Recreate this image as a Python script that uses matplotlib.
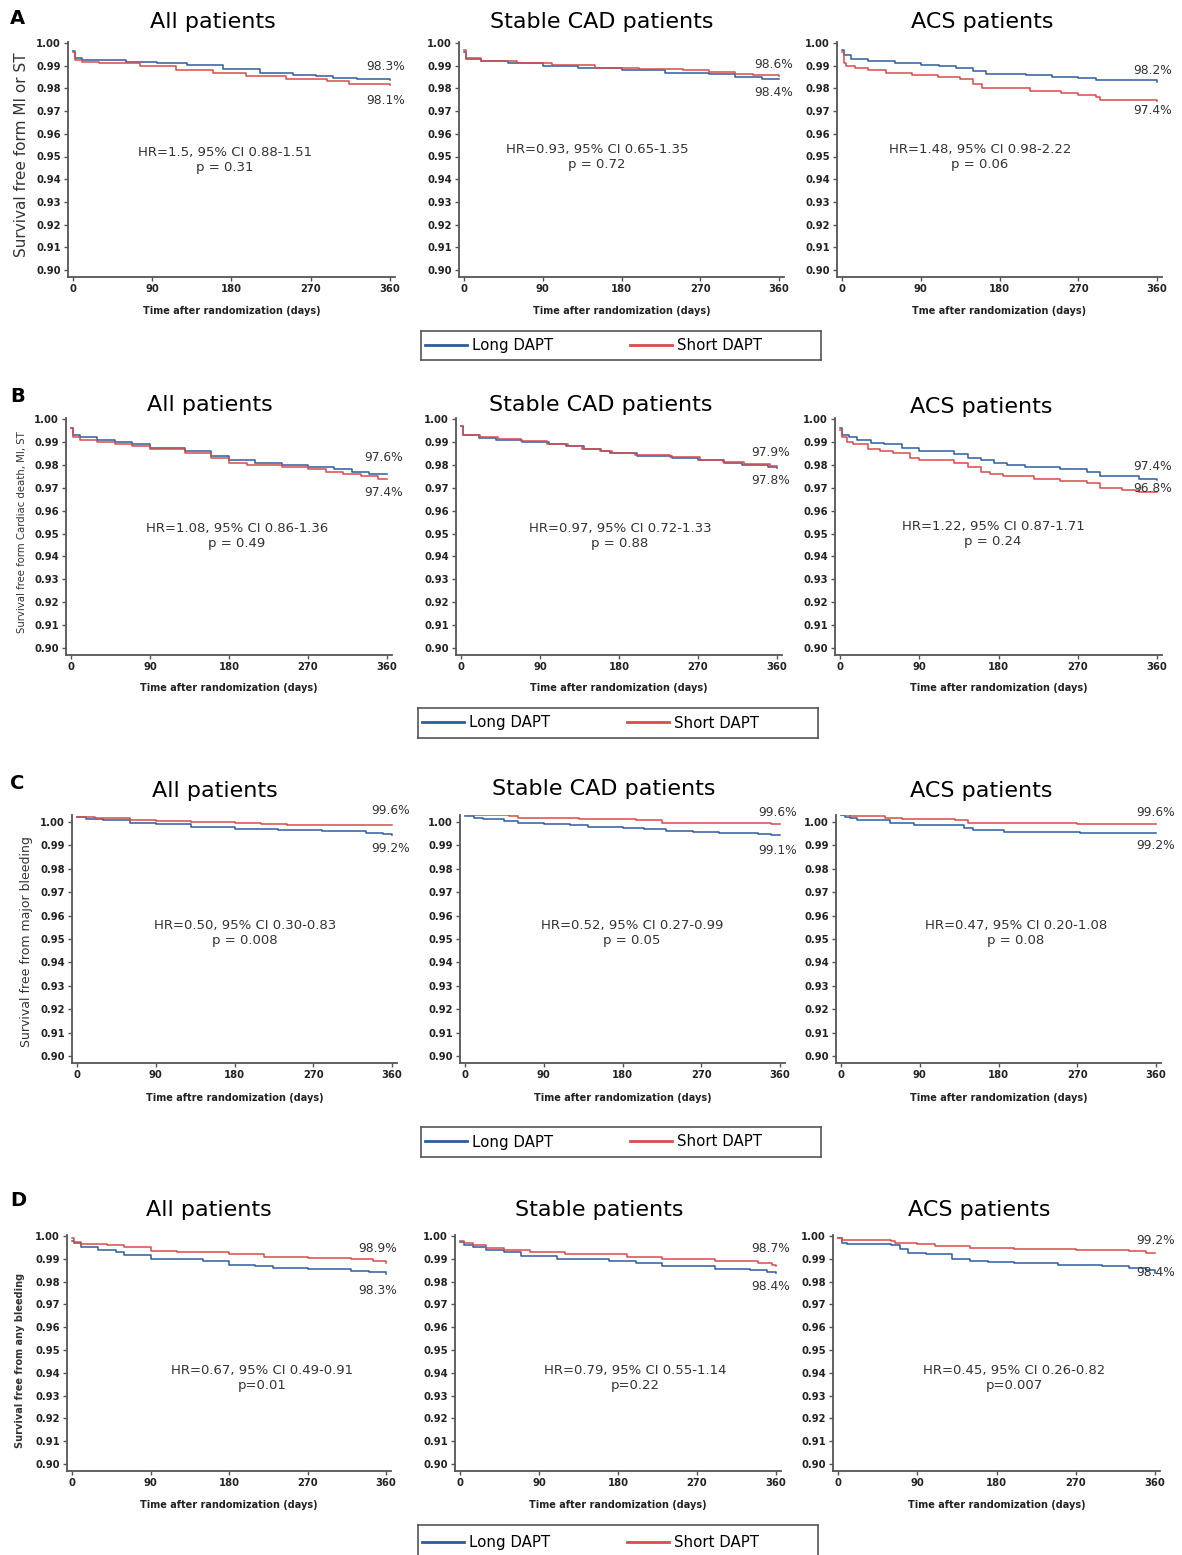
import matplotlib
matplotlib.use("Agg")
import matplotlib.pyplot as plt
from matplotlib.lines import Line2D

# ---- data (survival, days after randomization) ----
# Row A: MI or ST
A_ALL_LONG_T = [0, 2, 10, 30, 60, 95, 130, 170, 212, 250, 276, 295, 322, 360]
A_ALL_LONG_S = [0.9965, 0.9934, 0.9927, 0.9923, 0.9918, 0.9913, 0.9902, 0.9885, 0.9868, 0.9861, 0.9854, 0.9848, 0.9840, 0.9837]
A_ALL_SHORT_T = [0, 2, 10, 30, 76, 117, 159, 197, 242, 288, 314, 360]
A_ALL_SHORT_S = [0.9960, 0.9927, 0.9918, 0.9912, 0.9897, 0.9883, 0.9866, 0.9854, 0.9842, 0.9832, 0.9820, 0.9813]
A_STB_LONG_T = [0, 2, 20, 50, 90, 130, 180, 230, 280, 310, 340, 360]
A_STB_LONG_S = [0.9960, 0.9930, 0.9920, 0.9910, 0.9900, 0.9890, 0.9880, 0.9870, 0.9862, 0.9852, 0.9843, 0.9842]
A_STB_SHORT_T = [0, 2, 20, 60, 100, 150, 200, 250, 280, 310, 330, 360]
A_STB_SHORT_S = [0.9970, 0.9932, 0.9922, 0.9912, 0.9902, 0.9892, 0.9884, 0.9880, 0.9872, 0.9865, 0.9857, 0.9856]
A_ACS_LONG_T = [0, 2, 10, 30, 60, 90, 111, 130, 150, 165, 210, 240, 270, 290, 360]
A_ACS_LONG_S = [0.9970, 0.9945, 0.9929, 0.9922, 0.9913, 0.9903, 0.9897, 0.9888, 0.9875, 0.9863, 0.9858, 0.9850, 0.9846, 0.9836, 0.9830]
A_ACS_SHORT_T = [0, 2, 5, 15, 30, 50, 80, 110, 135, 150, 160, 215, 250, 270, 290, 295, 360]
A_ACS_SHORT_S = [0.9960, 0.9910, 0.9900, 0.9890, 0.9880, 0.9870, 0.9860, 0.9850, 0.9840, 0.9820, 0.9800, 0.9790, 0.9780, 0.9770, 0.9760, 0.9750, 0.9745]

# Row B: cardiac death, MI, ST
B_ALL_LONG_T = [0, 2, 10, 30, 50, 70, 90, 130, 160, 180, 210, 240, 270, 300, 320, 340, 360]
B_ALL_LONG_S = [0.996, 0.993, 0.992, 0.991, 0.990, 0.989, 0.9875, 0.986, 0.984, 0.982, 0.981, 0.980, 0.979, 0.978, 0.977, 0.976, 0.9758]
B_ALL_SHORT_T = [0, 2, 10, 30, 50, 70, 90, 130, 160, 180, 200, 240, 270, 290, 310, 330, 350, 360]
B_ALL_SHORT_S = [0.996, 0.992, 0.991, 0.990, 0.989, 0.988, 0.987, 0.985, 0.983, 0.981, 0.980, 0.979, 0.978, 0.977, 0.976, 0.975, 0.974, 0.9738]
B_STB_LONG_T = [0, 2, 20, 40, 70, 100, 120, 140, 160, 170, 200, 240, 270, 300, 320, 350, 360]
B_STB_LONG_S = [0.997, 0.9928, 0.9918, 0.9908, 0.9900, 0.9890, 0.9880, 0.9868, 0.9860, 0.9850, 0.9840, 0.9830, 0.9820, 0.9810, 0.9800, 0.9790, 0.9787]
B_STB_SHORT_T = [0, 2, 22, 42, 68, 98, 122, 138, 158, 172, 198, 238, 272, 298, 322, 352, 360]
B_STB_SHORT_S = [0.997, 0.9931, 0.9921, 0.9911, 0.9902, 0.9892, 0.9882, 0.9871, 0.9862, 0.9852, 0.9842, 0.9832, 0.9822, 0.9812, 0.9802, 0.9795, 0.9793]
B_ACS_LONG_T = [0, 2, 10, 19, 35, 50, 70, 90, 130, 145, 160, 175, 190, 210, 250, 280, 295, 340, 360]
B_ACS_LONG_S = [0.996, 0.993, 0.992, 0.991, 0.9895, 0.989, 0.9875, 0.986, 0.9847, 0.983, 0.982, 0.981, 0.980, 0.979, 0.978, 0.977, 0.9753, 0.974, 0.9735]
B_ACS_SHORT_T = [0, 2, 8, 15, 32, 45, 60, 80, 90, 130, 145, 160, 170, 185, 220, 250, 280, 295, 320, 340, 360]
B_ACS_SHORT_S = [0.995, 0.992, 0.990, 0.989, 0.987, 0.986, 0.985, 0.983, 0.982, 0.981, 0.979, 0.977, 0.976, 0.975, 0.974, 0.973, 0.972, 0.970, 0.969, 0.968, 0.968]

# Row C: major bleeding (curves sit slightly above the 1.00 tick in the source)
C_ALL_LONG_T = [0, 10, 30, 60, 90, 130, 180, 230, 280, 330, 350, 360]
C_ALL_LONG_S = [1.0021, 1.0012, 1.0008, 0.9995, 0.9990, 0.9980, 0.9972, 0.9966, 0.9960, 0.9955, 0.9948, 0.9946]
C_ALL_SHORT_T = [0, 20, 60, 90, 130, 180, 210, 240, 300, 360]
C_ALL_SHORT_S = [1.0021, 1.0018, 1.0010, 1.0005, 1.0000, 0.9995, 0.9990, 0.9988, 0.9987, 0.9987]
C_STB_LONG_T = [0, 10, 20, 45, 60, 90, 120, 140, 180, 205, 230, 260, 290, 335, 350, 360]
C_STB_LONG_S = [1.0026, 1.0019, 1.0012, 1.0005, 0.9997, 0.9993, 0.9986, 0.9980, 0.9975, 0.9969, 0.9962, 0.9958, 0.9953, 0.9950, 0.9945, 0.9944]
C_STB_SHORT_T = [0, 50, 60, 130, 195, 225, 270, 350, 360]
C_STB_SHORT_S = [1.0029, 1.0026, 1.0016, 1.0012, 1.0007, 0.9997, 0.9995, 0.9991, 0.9990]
C_ACS_LONG_T = [0, 5, 10, 18, 56, 83, 140, 151, 186, 273, 360]
C_ACS_LONG_S = [1.0030, 1.0023, 1.0016, 1.0009, 0.9997, 0.9986, 0.9976, 0.9966, 0.9959, 0.9954, 0.9954]
C_ACS_SHORT_T = [0, 10, 50, 70, 130, 145, 270, 360]
C_ACS_SHORT_S = [1.0030, 1.0027, 1.0019, 1.0014, 1.0010, 0.9997, 0.9993, 0.9993]

# Row D: any bleeding
D_ALL_LONG_T = [0, 2, 10, 30, 50, 60, 90, 120, 150, 180, 210, 230, 270, 320, 340, 360]
D_ALL_LONG_S = [0.998, 0.997, 0.9952, 0.994, 0.993, 0.9916, 0.9901, 0.990, 0.989, 0.9873, 0.987, 0.986, 0.9855, 0.9848, 0.984, 0.9832]
D_ALL_SHORT_T = [0, 2, 10, 40, 60, 90, 120, 180, 220, 270, 320, 345, 360]
D_ALL_SHORT_S = [0.999, 0.9974, 0.9964, 0.996, 0.995, 0.9933, 0.993, 0.992, 0.991, 0.9905, 0.990, 0.989, 0.9883]
D_STB_LONG_T = [0, 5, 15, 30, 50, 70, 110, 170, 200, 230, 290, 330, 350, 360]
D_STB_LONG_S = [0.9975, 0.996, 0.995, 0.994, 0.993, 0.9912, 0.990, 0.989, 0.988, 0.9868, 0.9857, 0.985, 0.984, 0.9838]
D_STB_SHORT_T = [0, 5, 15, 30, 50, 80, 120, 190, 230, 290, 340, 355, 360]
D_STB_SHORT_S = [0.998, 0.997, 0.9959, 0.9949, 0.994, 0.9929, 0.992, 0.9909, 0.990, 0.989, 0.988, 0.9875, 0.987]
D_ACS_LONG_T = [0, 5, 10, 60, 70, 80, 100, 130, 150, 170, 200, 250, 300, 330, 350, 360]
D_ACS_LONG_S = [0.999, 0.997, 0.9966, 0.996, 0.9941, 0.9926, 0.992, 0.990, 0.989, 0.9888, 0.988, 0.9875, 0.987, 0.986, 0.985, 0.9838]
D_ACS_SHORT_T = [0, 5, 60, 65, 90, 110, 150, 200, 270, 330, 350, 360]
D_ACS_SHORT_S = [0.999, 0.9982, 0.998, 0.9968, 0.9965, 0.9956, 0.9946, 0.9945, 0.994, 0.9935, 0.9926, 0.9925]

ROW_LETTERS = ["A", "B", "C", "D"]
TITLES = [["All patients", "Stable CAD patients", "ACS patients"],
          ["All patients", "Stable CAD patients", "ACS patients"],
          ["All patients", "Stable CAD patients", "ACS patients"],
          ["All patients", "Stable patients", "ACS patients"]]
YLABELS = ["Survival free form MI or ST",
           "Survival free form Cardiac death, MI, ST",
           "Survival free from major bleeding",
           "Survival free from any bleeding"]
XLABELS = [["Time after randomization (days)", "Time after randomization (days)", "Tme after randomization (days)"],
           ["Time after randomization (days)"] * 3,
           ["Time aftre randomization (days)", "Time after randomization (days)", "Time after randomization (days)"],
           ["Time after randomization (days)"] * 3]
HR_TEXT = [["HR=1.5, 95% CI 0.88-1.51\np = 0.31", "HR=0.93, 95% CI 0.65-1.35\np = 0.72", "HR=1.48, 95% CI 0.98-2.22\np = 0.06"],
           ["HR=1.08, 95% CI 0.86-1.36\np = 0.49", "HR=0.97, 95% CI 0.72-1.33\np = 0.88", "HR=1.22, 95% CI 0.87-1.71\np = 0.24"],
           ["HR=0.50, 95% CI 0.30-0.83\np = 0.008", "HR=0.52, 95% CI 0.27-0.99\np = 0.05", "HR=0.47, 95% CI 0.20-1.08\np = 0.08"],
           ["HR=0.67, 95% CI 0.49-0.91\np=0.01", "HR=0.79, 95% CI 0.55-1.14\np=0.22", "HR=0.45, 95% CI 0.26-0.82\np=0.007"]]
END_LABELS = [[("98.3%", "98.1%"), ("98.6%", "98.4%"), ("98.2%", "97.4%")],
              [("97.6%", "97.4%"), ("97.9%", "97.8%"), ("97.4%", "96.8%")],
              [("99.6%", "99.2%"), ("99.6%", "99.1%"), ("99.6%", "99.2%")],
              [("98.9%", "98.3%"), ("98.7%", "98.4%"), ("99.2%", "98.4%")]]
CURVES = [[(A_ALL_LONG_T, A_ALL_LONG_S, A_ALL_SHORT_T, A_ALL_SHORT_S),
           (A_STB_LONG_T, A_STB_LONG_S, A_STB_SHORT_T, A_STB_SHORT_S),
           (A_ACS_LONG_T, A_ACS_LONG_S, A_ACS_SHORT_T, A_ACS_SHORT_S)],
          [(B_ALL_LONG_T, B_ALL_LONG_S, B_ALL_SHORT_T, B_ALL_SHORT_S),
           (B_STB_LONG_T, B_STB_LONG_S, B_STB_SHORT_T, B_STB_SHORT_S),
           (B_ACS_LONG_T, B_ACS_LONG_S, B_ACS_SHORT_T, B_ACS_SHORT_S)],
          [(C_ALL_LONG_T, C_ALL_LONG_S, C_ALL_SHORT_T, C_ALL_SHORT_S),
           (C_STB_LONG_T, C_STB_LONG_S, C_STB_SHORT_T, C_STB_SHORT_S),
           (C_ACS_LONG_T, C_ACS_LONG_S, C_ACS_SHORT_T, C_ACS_SHORT_S)],
          [(D_ALL_LONG_T, D_ALL_LONG_S, D_ALL_SHORT_T, D_ALL_SHORT_S),
           (D_STB_LONG_T, D_STB_LONG_S, D_STB_SHORT_T, D_STB_SHORT_S),
           (D_ACS_LONG_T, D_ACS_LONG_S, D_ACS_SHORT_T, D_ACS_SHORT_S)]]
LEGEND_LABELS = ["Long DAPT", "Short DAPT"]
X_TICKS = [0, 90, 180, 270, 360]
Y_TICKS = [0.90, 0.91, 0.92, 0.93, 0.94, 0.95, 0.96, 0.97, 0.98, 0.99, 1.00]

# ---- layout (pixels in the 1182x1555 image) ----
W, H = 1182, 1555
BLUE = "#2e5c9c"
RED = "#d94b4b"
XLIM = (-6, 366)
YLIMS = [(0.8969, 1.0005), (0.8969, 1.0005), (0.897, 1.003), (0.8969, 1.0005)]
# per panel: x of day 0, x of day 360; per row: y of 1.00, y of 0.90
PANEL_X = [[(73, 390), (464, 779), (842, 1157)],
           [(71, 387), (461, 777), (840, 1157)],
           [(77, 392), (465, 780), (841, 1156)],
           [(72, 386), (460, 776), (838, 1155)]]
ROW_Y = [(43, 270), (419, 648), (822, 1056), (1236, 1464)]
TITLE_POS = [[(213, 22), (602, 22), (982, 22)],
             [(210, 405), (601, 405), (981, 407)],
             [(215, 791), (604, 789), (981, 791)],
             [(209, 1210), (599, 1210), (979, 1210)]]
LETTER_Y = [18, 396, 783, 1200]
YLAB = [(22, 155, 11, "normal"), (22, 532, 7.3, "normal"), (27, 942, 9, "normal"), (20, 1360, 7, "bold")]
HR_POS = [[(225, 160), (597, 157), (980, 157)],
          [(237, 536), (620, 536), (993, 534)],
          [(245, 933), (632, 933), (1016, 933)],
          [(262, 1378), (635, 1378), (1014, 1378)]]
END_POS = [[(405, 67, 101), (793, 65, 93), (1172, 71, 111)],
           [(403, 457, 493), (790, 452, 481), (1172, 467, 489)],
           [(410, 811, 848), (797, 813, 850), (1175, 813, 846)],
           [(397, 1248, 1290), (790, 1248, 1287), (1175, 1240, 1273)]]
LEGEND_BOX = [(421, 331, 821, 360), (418, 708, 818, 738), (421, 1127, 821, 1157), (418, 1525, 818, 1560)]
XLAB_Y = [311, 688, 1098, 1505]

fig = plt.figure(figsize=(W / 100, H / 100), dpi=100)


def add_panel(x0, x360, y100, y090, ylim):
    ppd = (x360 - x0) / 360.0
    ppu = (y090 - y100) / 0.10
    left = x0 + XLIM[0] * ppd
    right = x0 + XLIM[1] * ppd
    top = y100 - (ylim[1] - 1.0) * ppu
    bottom = y100 + (1.0 - ylim[0]) * ppu
    ax = fig.add_axes([left / W, 1 - bottom / H, (right - left) / W, (bottom - top) / H])
    ax.set_xlim(XLIM)
    ax.set_ylim(ylim)
    return ax, bottom


for r in range(4):
    y100, y090 = ROW_Y[r]
    fig.text(10 / W, 1 - LETTER_Y[r] / H, ROW_LETTERS[r], fontsize=14, fontweight="bold",
             ha="left", va="center")
    yx, yy, yfs, yfw = YLAB[r]
    fig.text(yx / W, 1 - yy / H, YLABELS[r], rotation=90, fontsize=yfs, fontweight=yfw,
             ha="center", va="center", color="#333333")
    for c in range(3):
        x0, x360 = PANEL_X[r][c]
        ax, bottom = add_panel(x0, x360, y100, y090, YLIMS[r])
        lt, ls, st, ss = CURVES[r][c]
        ax.step(lt, ls, where="post", color=BLUE, lw=1.1)
        ax.step(st, ss, where="post", color=RED, lw=1.1)

        for sp in ["top", "right"]:
            ax.spines[sp].set_visible(False)
        for sp in ["left", "bottom"]:
            ax.spines[sp].set_color("#555555")
            ax.spines[sp].set_linewidth(1.3)
        ax.set_xticks(X_TICKS)
        ax.set_yticks(Y_TICKS)
        ax.set_yticklabels([f"{v:.2f}" for v in Y_TICKS])
        ax.tick_params(direction="out", length=3, width=1, color="#555555",
                       labelsize=7.2, labelcolor="#222222", pad=2)
        for lab in ax.get_xticklabels() + ax.get_yticklabels():
            lab.set_fontweight("bold")
        ax.patch.set_alpha(0)

        fig.text((x0 + x360) / 2 / W, 1 - XLAB_Y[r] / H, XLABELS[r][c], fontsize=7,
                 fontweight="bold", ha="center", va="center", color="#222222")
        tx, ty = TITLE_POS[r][c]
        fig.text(tx / W, 1 - ty / H, TITLES[r][c], fontsize=16, ha="center", va="center")
        hx, hy = HR_POS[r][c]
        fig.text(hx / W, 1 - hy / H, HR_TEXT[r][c], fontsize=9.5, ha="center", va="center",
                 color="#333333", linespacing=1.15)
        ex, ey1, ey2 = END_POS[r][c]
        fig.text(ex / W, 1 - ey1 / H, END_LABELS[r][c][0], fontsize=8.8, ha="right",
                 va="center", color="#333333")
        fig.text(ex / W, 1 - ey2 / H, END_LABELS[r][c][1], fontsize=8.8, ha="right",
                 va="center", color="#333333")

    lx0, ly0, lx1, ly1 = LEGEND_BOX[r]
    lax = fig.add_axes([lx0 / W, 1 - ly1 / H, (lx1 - lx0) / W, (ly1 - ly0) / H])
    lax.set_xticks([])
    lax.set_yticks([])
    for sp in lax.spines.values():
        sp.set_color("#555555")
        sp.set_linewidth(1.2)
    handles = [Line2D([], [], color=BLUE, lw=2), Line2D([], [], color=RED, lw=2)]
    lax.legend(handles, LEGEND_LABELS, loc="center left", ncol=2, frameon=False,
               fontsize=10.8, handlelength=2.8, handletextpad=0.35, columnspacing=5.1,
               borderaxespad=0.0, borderpad=0.25)

fig.savefig("out.png", dpi=100)
